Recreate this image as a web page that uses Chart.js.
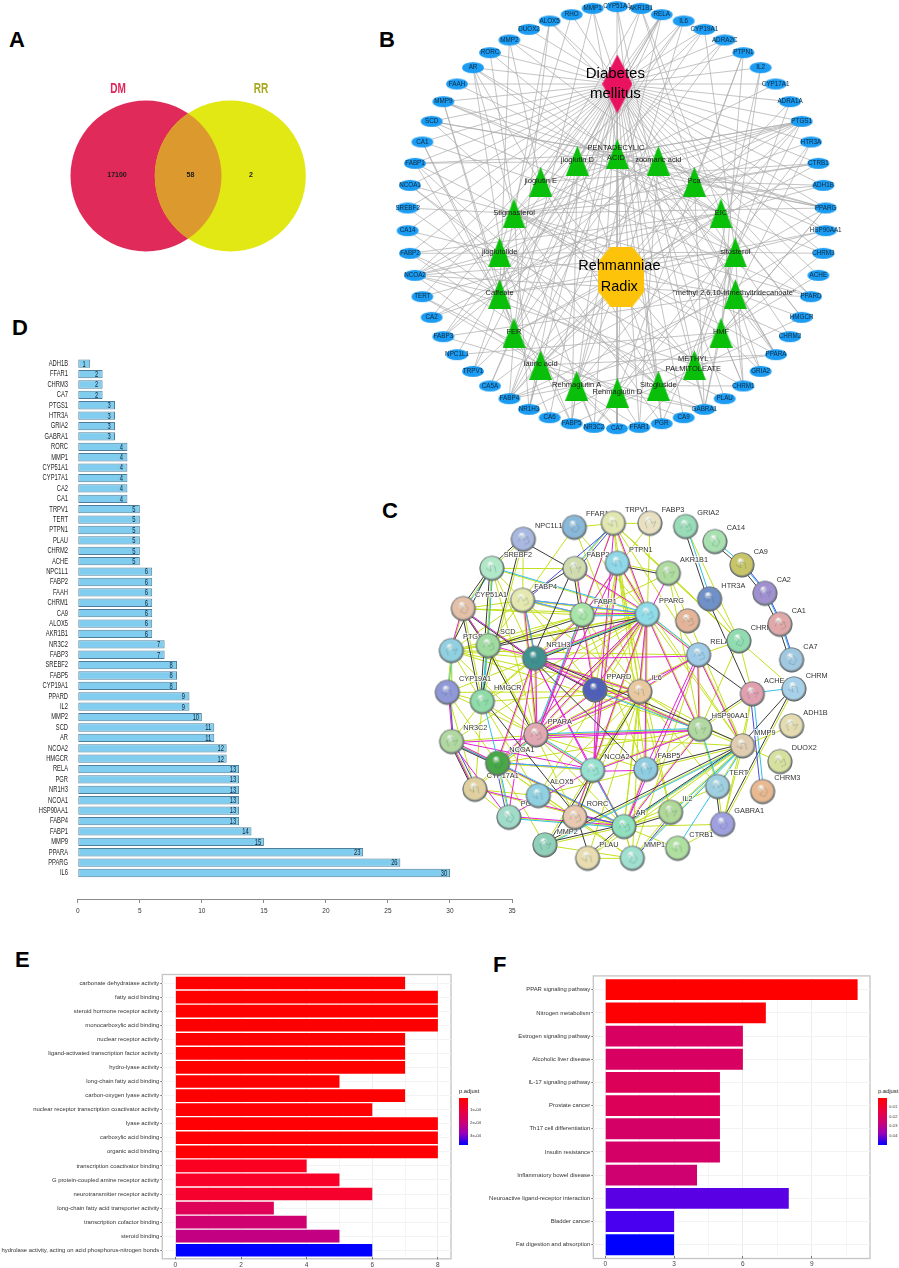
<!DOCTYPE html>
<html>
<head>
<meta charset="utf-8">
<title>Diabetes mellitus / Rehmanniae Radix</title>
<script src="https://cdn.jsdelivr.net/npm/chart.js@4"></script>
<style>
    html, body { margin: 0; padding: 0; background: #fff; overflow: hidden; }
    #page { position: relative; width: 899px; height: 1268px; overflow: hidden; font-family: "Liberation Sans", Arial, sans-serif; }
    canvas { position: absolute; filter: blur(0.3px); }
    .letter { position: absolute; font-size: 22px; line-height: 22px; font-weight: bold; color: #000; }
    .bar-legend { position: absolute; width: 9px; height: 47px; background: linear-gradient(#ff0000, #ee0038 25%, #d00070 50%, #9a00b8 75%, #0000ff); }
    .leg { position: absolute; font-size: 4.3px; line-height: 6px; color: #333; white-space: nowrap; }
    .leg-title { font-size: 5.8px; line-height: 7px; color: #222; }
</style>
</head>
<body>
<div id="page">
    <div class="letter" style="left:9px;top:29px">A</div>
    <div class="letter" style="left:379px;top:29px">B</div>
    <div class="letter" style="left:382px;top:500px">C</div>
    <div class="letter" style="left:12px;top:317px">D</div>
    <div class="letter" style="left:15px;top:949px">E</div>
    <div class="letter" style="left:493px;top:954px">F</div>

    <canvas id="chartA" width="380" height="220" style="left:0;top:60px"></canvas>
    <canvas id="chartB" width="470" height="440" style="left:380px;top:0"></canvas>
    <canvas id="chartC" width="420" height="400" style="left:420px;top:495px"></canvas>
    <canvas id="chartD" width="530" height="590" style="left:0;top:340px"></canvas>
    <canvas id="chartE" width="456" height="308" style="left:0;top:960px"></canvas>
    <canvas id="chartF" width="395" height="308" style="left:480px;top:960px"></canvas>

    <div class="leg leg-title" style="left:459px;top:1088px">p.adjust</div>
    <div class="bar-legend" style="left:459px;top:1098px"></div>
    <div class="leg" style="left:470px;top:1107px">1e-04</div>
    <div class="leg" style="left:470px;top:1120px">2e-04</div>
    <div class="leg" style="left:470px;top:1133px">3e-04</div>

    <div class="leg leg-title" style="left:878px;top:1088px">p.adjust</div>
    <div class="bar-legend" style="left:878px;top:1098px"></div>
    <div class="leg" style="left:889px;top:1104px">0.01</div>
    <div class="leg" style="left:889px;top:1114px">0.02</div>
    <div class="leg" style="left:889px;top:1123px">0.03</div>
    <div class="leg" style="left:889px;top:1133px">0.04</div>
</div>

<script>
// ============= A - Venn =============
const vennNames = ['DM', 'RR'];
const vennX = [146, 230.3];
const vennY = [176, 176];
const vennCounts = ['17100', '58', '2'];
const vennCountX = [117, 190.5, 251];

// ============= B - herb / target network =============
const bTargets = ['CYP51A1','AKR1B1','RELA','IL6','CYP19A1','ADRA2C','PTPN1','IL2','CYP17A1','ADRA1A','PTGS1','HTR3A','CTRB1','ADH1B','PPARG','HSP90AA1','CHRM3','ACHE','PPARD','HMGCR','CHRM2','PPARA','GRIA2','CHRM1','PLAU','GABRA1','CA9','PGR','FFAR1','CA7','NR3C2','FABP5','CA6','NR1H3','FABP4','CA5A','TRPV1','NPC1L1','FABP3','CA2','TERT','NCOA2','FABP2','CA14','SREBF2','NCOA1','FABP1','CA1','SCD','MMP9','FAAH','AR','RORC','MMP2','DUOX2','ALOX5','RHO','MMP1'];
const bTargetX = [711,783,845,911,973,1034,1090,1142,1187,1230,1265,1293,1315,1330,1337,1337,1330,1315,1293,1265,1230,1188,1142,1090,1034,973,911,845,778,711,642,575,509,447,388,330,279,231,190,155,127,105,90,83,83,90,105,127,155,190,231,279,330,388,447,509,575,638];
const bTargetY = [20,25,44,63,88,120,158,203,252,305,364,426,490,556,624,692,760,826,890,952,1010,1064,1114,1158,1196,1228,1253,1271,1282,1286,1282,1271,1253,1228,1196,1158,1114,1064,1010,952,890,826,760,692,624,556,490,426,364,305,252,203,158,120,88,63,44,25];

const bHerbs = ['PENTADECYLIC\nACID','jioglutin D','zoomaric acid','jioglutin E','Pca','Stigmasterol','EIC','jioglutolide','sitosterol','Caffeate','"methyl 2,6,10-trimethyltridecanoate"','FER','HMF','lauric acid','METHYL\nPALMITOLEATE','Rehmaglutin A','Sitogluside','Rehmaglutin D'];
const bHerbX = [712,592,835,482,943,402,1023,359,1066,359,1066,402,1023,482,943,590,835,712];
const bHerbY = [462,482,482,545,545,640,640,757,757,882,882,998,998,1095,1095,1157,1157,1178];
const bHerbLabelX = [708,592,835,482,943,402,1023,359,1066,359,1063,402,1023,482,940,590,835,712];
const bHerbLabelY = [444,481,481,544,544,638,638,756,756,880,880,996,996,1093,1077,1155,1155,1177];
const bHerbLinks = [
    'PTGS1 FABP1 PPARG PPARA FABP4 FABP3 CYP19A1 SCD',
    'PTGS1 RELA IL6 MMP9 PPARG NR1H3 FABP5',
    'PTGS1 FABP1 FABP3 FABP4 PPARA PPARG FFAR1 SCD NCOA2 HSP90AA1',
    'PTGS1 CTRB1 AKR1B1 RELA CA1 MMP2 PPARD',
    'ADH1B CTRB1 PPARG MMP9 CA2 HTR3A AKR1B1 FABP4 ALOX5 MMP2 PTPN1 GABRA1',
    'PTGS1 NCOA2 NCOA1 SREBF2 FABP1 AR CYP19A1 CYP17A1 RORC PPARG PPARD PPARA PGR NR1H3 NR3C2 HMGCR CHRM2 CTRB1 ADH1B',
    'MMP9 ADH1B PPARD HMGCR CA5A FABP2 NCOA2 AKR1B1 CHRM1 CHRM3 FAAH AR TERT',
    'PTGS1 NCOA1 NCOA2 CA14 RHO ADRA2C FABP5 CHRM1',
    'PTGS1 CHRM3 NCOA2 NR3C2 PGR CYP19A1 AR HSP90AA1 FABP2 CHRM1 GABRA1 SCD RORC',
    'MMP2 MMP9 ALOX5 RELA TRPV1 CA1 CA2 CA14 FABP2 NCOA2 PTGS1 HSP90AA1 PLAU IL6 CA6',
    'PPARA PPARD FABP3 FABP4 NCOA2 GRIA2 HTR3A',
    'MMP1 CA1 CA5A FABP4 ALOX5 MMP9 RELA CTRB1 TRPV1 AR ADRA2C CA7',
    'CHRM3 IL2 PTPN1 FABP4 CA6 GRIA2 GABRA1 ACHE PPARG NPC1L1 CHRM1',
    'FABP1 FABP3 FABP4 FABP5 FFAR1 PPARA PPARG PTGS1 NCOA2 GABRA1 NR1H3 ADRA1A',
    'PPARA PPARG NCOA2 GABRA1 FABP4 SCD FFAR1 CYP51A1 IL2 ADRA1A',
    'IL6 RELA NR1H3 NR3C2 HSP90AA1 FABP5 CA7 TERT PTGS1',
    'MMP1 GABRA1 CHRM1 NCOA1 PGR FABP1 AR HMGCR CYP51A1 SREBF2 FABP5',
    'GABRA1 CA9 CA7 FFAR1 PTPN1 NR3C2 FABP2 HTR3A TERT'
];

// ============= C - protein interaction network =============
const cNames = ['NPC1L1','FFAR1','TRPV1','FABP3','GRIA2','CA14','CA9','CA2','CA1','CA7','CHRM','ADH1B','DUOX2','CHRM3','MMP9','HSP90AA1','TERT','GABRA1','CTRB1','IL2','AR','MMP1','PLAU','MMP2','RORC','PG','ALOX5','FABP5','NCOA2','NCOA1','CYP17A1','NR3C2','PPARA','PPARD','IL6','ACHE','RELA','CHRM1','HTR3A','AKR1B1','PPARG','FABP1','PTPN1','FABP2','FABP4','CYP51A1','SREBF2','PTGS1','SCD','NR1H3','CYP19A1','HMGCR',''];
const cX = [310,463,580,690,797,885,966,1035,1080,1115,1122,1115,1080,1028,968,840,893,908,773,752,612,637,503,375,465,267,355,678,518,233,165,95,348,525,660,997,836,957,869,745,682,487,592,465,308,130,216,94,205,344,82,187,803];
const cY = [133,97,85,85,95,140,210,295,388,495,582,693,800,890,753,703,875,988,1060,952,995,1090,1090,1050,967,967,902,823,826,805,883,740,720,585,590,597,480,438,312,235,358,360,205,221,316,341,220,467,452,490,592,620,378];
const cColors = ['#a8b8e0','#8ab8d8','#e2e6b0','#e8e0c0','#9adcb8','#a8e0b0','#c8c468','#a090d0','#e0a8a8','#a0c8e0','#a8d0e8','#e4dcb0','#d8e0a0','#e8b890','#e0ccb0','#b0d8a0','#a0d0e0','#a0a0e0','#b0e0a0','#b0d898','#90e0c0','#a0e0d0','#e8dcb0','#90d0b8','#e8c8b0','#a0dcc8','#90d0e0','#90cce0','#98e0d0','#48a848','#e0d0a0','#b0d8a0','#e0a8b0','#5060b8','#e8c8a0','#e0a0b0','#a0cce8','#90dcb0','#7090c8','#b0dca0','#90dce8','#a8e4a8','#90d8e8','#d0dcb0','#e4e8b0','#e4c0a8','#b0e8c8','#90d0e0','#a0dca0','#409090','#9098d8','#90dca8','#e4b498'];

const cLime = [
    ['IL6','PPARG PPARA PPARD RELA NCOA1 NCOA2 HSP90AA1 MMP9 MMP2 MMP1 AR PTGS1 NR1H3 IL2 FABP4 FABP1 HMGCR TERT FFAR1 TRPV1 CYP19A1 RORC PTPN1 ALOX5 PLAU SCD'],
    ['PPARG','PPARA PPARD NCOA1 NCOA2 FABP1 FABP2 FABP3 FABP4 FABP5 NR1H3 SCD HMGCR AR HSP90AA1 RELA MMP9 PTGS1 CYP19A1 SREBF2 CYP51A1 PTPN1 TRPV1 NR3C2 ALOX5 FFAR1 RORC'],
    ['PPARA','PPARD NCOA1 NCOA2 FABP1 FABP4 FABP5 NR1H3 SCD HMGCR SREBF2 CYP51A1 AR HSP90AA1 NR3C2 RORC PTGS1 CYP19A1 RELA CYP17A1 MMP9'],
    ['NCOA1','NCOA2 AR NR3C2 PG RORC NR1H3 CYP17A1 HSP90AA1 CYP19A1 MMP2 MMP1'],
    ['AR','NCOA2 HSP90AA1 PG MMP2 MMP1 PLAU NR3C2 RORC CYP17A1 FABP5 TERT GABRA1 IL2 MMP9 CTRB1'],
    ['HSP90AA1','MMP9 TERT NR1H3 PTGS1 RELA ACHE CHRM1 AKR1B1 FABP5 NCOA2 PPARD'],
    ['MMP9','TERT MMP2 MMP1 PLAU IL2 RELA PTPN1 ACHE DUOX2 ADH1B AKR1B1 GABRA1 ALOX5'],
    ['FABP1','FABP2 FABP3 FABP4 FABP5 SCD HMGCR CYP51A1 PTGS1 NR1H3 PPARD AKR1B1 TRPV1'],
    ['FABP4','SCD FFAR1 NPC1L1 SREBF2 NR1H3 PPARD CYP51A1 PTGS1'],
    ['SREBF2','HMGCR SCD CYP51A1 NPC1L1 NR1H3 FABP2'],
    ['HMGCR','CYP51A1 CYP19A1 SCD NR1H3 NPC1L1 CYP17A1 NR3C2'],
    ['PTGS1','CYP19A1 SCD ALOX5 NR1H3 CYP51A1 NR3C2 RELA'],
    ['CHRM1','ACHE CHRM TRPV1 GRIA2 HTR3A AKR1B1 RELA'],
    ['TRPV1','FFAR1 FABP2 PTPN1 AKR1B1 RELA FABP3 CHRM1'],
    ['GABRA1','CTRB1 TERT ACHE CHRM'],
    ['MMP1','MMP2 PLAU IL2 RELA AR ALOX5'],
    ['CYP17A1','CYP19A1 NR3C2 PG ALOX5'],
    ['PTPN1','IL2 PPARD AKR1B1 FABP5 NCOA2']
];
const cMagenta = [
    ['PPARG','PPARA PPARD NCOA1 NCOA2 FABP1 FABP4 FABP5 NR1H3 RELA IL6 HSP90AA1 TRPV1 AKR1B1 FABP2 PTPN1'],
    ['PPARA','PPARD NCOA1 NCOA2 NR1H3 FABP1 FABP4 RELA HSP90AA1 IL6 TRPV1 PTPN1'],
    ['NR1H3','NCOA1 NCOA2 PPARD RELA FABP4 FABP1 SCD AR PG IL6 HSP90AA1'],
    ['NCOA2','AR NR3C2 PG RORC FABP5 NCOA1 PPARD HSP90AA1 PTPN1 TRPV1'],
    ['AR','NR3C2 PG CYP17A1 HSP90AA1 RELA FABP5'],
    ['NR3C2','NCOA1 PG CYP19A1 CYP17A1 HSP90AA1'],
    ['CYP51A1','PTGS1 SCD NR1H3'],
    ['RELA','IL6 HSP90AA1 MMP9 FABP5'],
    ['FABP1','FABP2 FABP4 PPARD PTPN1']
];
const cCyan = [
    ['CA14','CA9'],['CA9','CA2'],['CA2','CA1'],['CA1','CA7'],
    ['GRIA2','HTR3A'],['FABP4','FABP1'],['FABP4','PPARG'],['FABP4','NR1H3'],['FABP2','TRPV1'],
    ['PPARA','HSP90AA1 NCOA1 NCOA2 FABP1'],['PPARG','FABP1 NR1H3 RELA'],['NCOA1','NCOA2 AR PG NR3C2'],
    ['SREBF2','HMGCR CYP51A1 PPARG'],['PTGS1','CYP19A1'],['HMGCR','NCOA1 SCD'],
    ['AR','PG MMP9 NCOA2'],['MMP9','MMP2 MMP1 TERT IL2'],['CTRB1','TERT'],['ACHE','CHRM CHRM3'],
    ['HSP90AA1','PPARD TERT']
];
const cBlack = [
    ['CA14','CA9'],['CA9','CA2'],['CA2','CA1'],['CA1','CA7'],['GRIA2','HTR3A'],
    ['NPC1L1','FABP2 SREBF2 HMGCR'],['SREBF2','CYP51A1 HMGCR PTGS1'],['FABP2','NR1H3 FABP1 FABP4'],
    ['PTPN1','AKR1B1'],['CYP51A1','NR1H3 SCD HMGCR'],['SCD','PPARG PPARA FABP1'],
    ['HTR3A','ACHE'],['RELA','ACHE'],['CHRM','GABRA1 MMP9'],['TERT','GABRA1'],
    ['MMP9','FABP5 AR MMP2 NR1H3'],['NR1H3','PPARG PPARD FABP5'],['AR','MMP2 IL2 PLAU'],['PLAU','RORC'],
    ['MMP2','IL6'],['NR3C2','NCOA1 CYP17A1'],['ACHE','HSP90AA1'],['RORC','NCOA2 HMGCR']
];
const cBlue = [
    ['CA9','CA2'],['CA2','CA1'],['CA1','CA7'],['CYP19A1','NR3C2'],['NR3C2','CYP17A1'],['PG','NCOA1'],
    ['TRPV1','FABP4'],['TRPV1','FABP2'],['IL2','MMP1'],['RORC','AR'],['CHRM3','ACHE']
];

// ============= D - degree bars =============
const dGenes = ['ADH1B','FFAR1','CHRM3','CA7','PTGS1','HTR3A','GRIA2','GABRA1','RORC','MMP1','CYP51A1','CYP17A1','CA2','CA1','TRPV1','TERT','PTPN1','PLAU','CHRM2','ACHE','NPC1L1','FABP2','FAAH','CHRM1','CA9','ALOX5','AKR1B1','NR3C2','FABP3','SREBF2','FABP5','CYP19A1','PPARD','IL2','MMP2','SCD','AR','NCOA2','HMGCR','RELA','PGR','NR1H3','NCOA1','HSP90AA1','FABP4','FABP1','MMP9','PPARA','PPARG','IL6'];
const dValues = [1,2,2,2,3,3,3,3,4,4,4,4,4,4,5,5,5,5,5,5,6,6,6,6,6,6,6,7,7,8,8,8,9,9,10,11,11,12,12,13,13,13,13,13,13,14,15,23,26,30];

// ============= E - GO enrichment =============
const eTerms = ['carbonate dehydratase activity','fatty acid binding','steroid hormone receptor activity','monocarboxylic acid binding','nuclear receptor activity','ligand-activated transcription factor activity','hydro-lyase activity','long-chain fatty acid binding','carbon-oxygen lyase activity','nuclear receptor transcription coactivator activity','lyase activity','carboxylic acid binding','organic acid binding','transcription coactivator binding','G protein-coupled amine receptor activity','neurotransmitter receptor activity','long-chain fatty acid transporter activity','transcription cofactor binding','steroid binding','hydrolase activity, acting on acid phosphorus-nitrogen bonds'];
const eCounts = [7,8,8,8,7,7,7,5,7,6,8,8,8,4,5,6,3,4,5,6];
const eColors = ['#ff0000','#ff0000','#ff0000','#ff0000','#ff0000','#ff0000','#ff0000','#ff0000','#ff0000','#ff0004','#ff0004','#ff0004','#ff0004','#fb0020','#f90028','#f6002e','#df0058','#cf0070','#c40082','#0000ff'];

// ============= F - KEGG enrichment =============
const fTerms = ['PPAR signaling pathway','Nitrogen metabolism','Estrogen signaling pathway','Alcoholic liver disease','IL-17 signaling pathway','Prostate cancer','Th17 cell differentiation','Insulin resistance','Inflammatory bowel disease','Neuroactive ligand-receptor interaction','Bladder cancer','Fat digestion and absorption'];
const fCounts = [11,7,6,6,5,5,5,5,4,8,3,3];
const fColors = ['#ff0000','#fe0004','#d80060','#d80060','#dc0058','#dc0058','#d40066','#d40066','#cf0070','#5a00e4','#4a00f0','#0000ff'];

document.addEventListener('DOMContentLoaded', () => {

    const FONT = '"Liberation Sans", Arial, sans-serif';
    Chart.defaults.font.family = FONT;
    Chart.defaults.animation = false;
    Chart.defaults.responsive = false;
    Chart.defaults.layout.autoPadding = false;
    Chart.defaults.plugins.legend.display = false;
    Chart.defaults.plugins.tooltip.enabled = false;

    // axes that only map picture coordinates onto the canvas
    function plainScales(xMin, xMax, yMin, yMax) {
        return {
            x: { type: 'linear', display: false, min: xMin, max: xMax },
            y: { type: 'linear', display: false, min: yMin, max: yMax, reverse: true }
        };
    }

    // the reference sets panels A and D in a condensed face
    function narrowText(ctx, text, x, y, squeeze) {
        ctx.save();
        ctx.translate(x, y);
        ctx.scale(squeeze, 1);
        ctx.fillText(text, 0, 0);
        ctx.restore();
    }

    // sprites for the network nodes
    function sprite(w, h, draw) {
        const c = document.createElement('canvas');
        c.width = w; c.height = h;
        draw(c.getContext('2d'), w, h);
        return c;
    }
    function polygon(ctx, pts, color) {
        ctx.fillStyle = color;
        ctx.beginPath();
        pts.forEach((p, i) => i ? ctx.lineTo(p[0], p[1]) : ctx.moveTo(p[0], p[1]));
        ctx.closePath();
        ctx.fill();
    }
    const ellipseImg = sprite(24, 13, (ctx, w, h) => {
        ctx.fillStyle = '#1b9cf2';
        ctx.beginPath();
        ctx.ellipse(w / 2, h / 2, 11, 5.6, 0, 0, Math.PI * 2);
        ctx.fill();
    });
    const triangleImg = sprite(23, 30, (ctx, w, h) => polygon(ctx, [[w / 2, 0], [w, h], [0, h]], '#0abf0a'));
    const diamondImg = sprite(30, 59, (ctx, w, h) => polygon(ctx, [[w / 2, 0], [w, h / 2], [w / 2, h], [0, h / 2]], '#e8125f'));
    const octagonImg = sprite(46, 60, (ctx, w, h) => polygon(ctx, [[12, 0], [34, 0], [46, 15], [46, 45], [34, 60], [12, 60], [0, 45], [0, 15]], '#fdc30a'));

    // ============= PAINEL A =============
    const vennPlugin = {
        id: 'venn',
        afterDatasetsDraw(chart) {
            const { ctx, scales: { x, y } } = chart;
            const r = 75.5;
            // overlap
            ctx.save();
            ctx.beginPath();
            ctx.arc(x.getPixelForValue(vennX[0]), y.getPixelForValue(vennY[0]), r, 0, Math.PI * 2);
            ctx.clip();
            ctx.fillStyle = '#dc9a2e';
            ctx.beginPath();
            ctx.arc(x.getPixelForValue(vennX[1]), y.getPixelForValue(vennY[1]), r, 0, Math.PI * 2);
            ctx.fill();
            ctx.restore();

            ctx.save();
            ctx.textAlign = 'center';
            ctx.textBaseline = 'middle';
            ctx.font = 'bold 14px ' + FONT;
            ctx.fillStyle = '#e0255a';
            narrowText(ctx, vennNames[0], x.getPixelForValue(118), y.getPixelForValue(89.5), 0.72);
            ctx.fillStyle = '#a8a820';
            narrowText(ctx, vennNames[1], x.getPixelForValue(261), y.getPixelForValue(89.5), 0.72);
            ctx.font = 'bold 7px ' + FONT;
            ctx.fillStyle = '#1a1a1a';
            vennCounts.forEach((t, i) => ctx.fillText(t, x.getPixelForValue(vennCountX[i]), y.getPixelForValue(175)));
            ctx.restore();
        }
    };
    new Chart(document.getElementById('chartA'), {
        type: 'scatter',
        data: {
            datasets: [
                { data: [{ x: vennX[1], y: vennY[1] }], pointRadius: 75.5, pointBackgroundColor: '#e1e813', pointBorderWidth: 0 },
                { data: [{ x: vennX[0], y: vennY[0] }], pointRadius: 75.5, pointBackgroundColor: '#e02b5a', pointBorderWidth: 0 }
            ]
        },
        options: { scales: plainScales(0, 380, 60, 280) },
        plugins: [vennPlugin]
    });

    // ============= PAINEL B =============
    const dmPoint = { x: 712, y: 252 };
    const rrPoint = { x: 724, y: 830 };
    const targetPoint = name => {
        const i = bTargets.indexOf(name);
        return { x: bTargetX[i], y: bTargetY[i] };
    };
    const gap = { x: NaN, y: NaN };
    const bEdges = [];
    bTargets.forEach(name => bEdges.push(dmPoint, targetPoint(name), gap));
    bHerbs.forEach((h, i) => {
        const herb = { x: bHerbX[i], y: bHerbY[i] };
        bEdges.push(rrPoint, herb, gap);
        bHerbLinks[i].split(' ').forEach(name => bEdges.push(herb, targetPoint(name), gap));
    });

    const bLabels = {
        id: 'bLabels',
        afterDatasetsDraw(chart) {
            const { ctx, scales: { x, y } } = chart;
            ctx.save();
            ctx.textAlign = 'center';
            ctx.textBaseline = 'middle';
            ctx.fillStyle = '#10283c';
            ctx.font = '6.3px ' + FONT;
            bTargets.forEach((t, i) => ctx.fillText(t, x.getPixelForValue(bTargetX[i]), y.getPixelForValue(bTargetY[i])));
            ctx.fillStyle = '#1c1c1c';
            ctx.font = '7.5px ' + FONT;
            bHerbs.forEach((t, i) => t.split('\n').forEach((line, k) =>
                ctx.fillText(line, x.getPixelForValue(bHerbLabelX[i]), y.getPixelForValue(bHerbLabelY[i]) + k * 10)));
            ctx.fillStyle = '#000';
            ctx.font = '15px ' + FONT;
            ctx.fillText('Diabetes', x.getPixelForValue(706), y.getPixelForValue(221));
            ctx.fillText('mellitus', x.getPixelForValue(706), y.getPixelForValue(283));
            ctx.font = '14.5px ' + FONT;
            ctx.fillText('Rehmanniae', x.getPixelForValue(718), y.getPixelForValue(798));
            ctx.fillText('Radix', x.getPixelForValue(718), y.getPixelForValue(860));
            ctx.restore();
        }
    };
    new Chart(document.getElementById('chartB'), {
        type: 'scatter',
        data: {
            datasets: [
                { data: [dmPoint], pointStyle: diamondImg },
                { data: [rrPoint], pointStyle: octagonImg },
                { data: bHerbs.map((h, i) => ({ x: bHerbX[i], y: bHerbY[i] })), pointStyle: triangleImg },
                { data: bTargets.map((t, i) => ({ x: bTargetX[i], y: bTargetY[i] })), pointStyle: ellipseImg },
                { data: bEdges, showLine: true, spanGaps: false, pointRadius: 0, borderColor: '#ababab', borderWidth: 0.7 }
            ]
        },
        options: { scales: plainScales(0, 1410, 0, 1320) },
        plugins: [bLabels]
    });

    // ============= PAINEL C =============
    function sphere(color, seed) {
        const wiggles = [
            [[-5, 2], [-2, -4], [1, 1], [4, -3], [6, 3], [1, 5]],
            [[-4, -4], [0, -1], [-3, 3], [2, 5], [5, 0], [1, -5]],
            [[-6, 0], [-1, 3], [-2, -3], [3, -2], [4, 4]],
            [[-3, 5], [-5, -1], [0, -5], [2, 0], [6, -2], [3, 4]]
        ];
        return sprite(28, 28, (ctx) => {
            const g = ctx.createRadialGradient(12, 9, 0.5, 14, 14, 12.5);
            g.addColorStop(0, '#f4f8f4');
            g.addColorStop(0.3, color);
            g.addColorStop(0.82, color);
            g.addColorStop(0.95, '#6a7274');
            g.addColorStop(1, '#444c4e');
            ctx.fillStyle = g;
            ctx.beginPath();
            ctx.arc(14, 14, 12.5, 0, Math.PI * 2);
            ctx.fill();
            ctx.strokeStyle = 'rgba(60,90,100,0.3)';
            ctx.lineWidth = 0.8;
            ctx.beginPath();
            wiggles[seed % 4].forEach((p, i) => i ? ctx.lineTo(14 + p[0], 14 + p[1]) : ctx.moveTo(14 + p[0], 14 + p[1]));
            ctx.stroke();
        });
    }
    // parallel strands, one per evidence colour
    function strands(links, offset) {
        const out = [];
        links.forEach(([from, list]) => list.split(' ').forEach(to => {
            const a = cNames.indexOf(from), b = cNames.indexOf(to);
            const dx = cX[b] - cX[a], dy = cY[b] - cY[a], len = Math.hypot(dx, dy);
            const ox = -dy / len * offset, oy = dx / len * offset;
            out.push({ x: cX[a] + ox, y: cY[a] + oy }, { x: cX[b] + ox, y: cY[b] + oy }, gap);
        }));
        return out;
    }
    const strand = (links, color, offset) => ({
        data: strands(links, offset), showLine: true, spanGaps: false, pointRadius: 0, borderColor: color, borderWidth: 1
    });

    const cLabels = {
        id: 'cLabels',
        beforeDatasetDraw(chart, args) {
            if (args.index !== 0) return;
            const { ctx, scales: { x, y } } = chart;
            ctx.save();
            ctx.font = '7.3px ' + FONT;
            ctx.textBaseline = 'middle';
            ctx.lineJoin = 'round';
            cNames.forEach((t, i) => {
                const px = x.getPixelForValue(cX[i]) + 11.7, py = y.getPixelForValue(cY[i]) - 13.3;
                ctx.strokeStyle = 'rgba(255,255,255,0.75)';
                ctx.lineWidth = 2;
                ctx.strokeText(t, px, py);
                ctx.fillStyle = '#333';
                ctx.fillText(t, px, py);
            });
            ctx.restore();
        }
    };
    new Chart(document.getElementById('chartC'), {
        type: 'scatter',
        data: {
            datasets: [
                { data: cNames.map((n, i) => ({ x: cX[i], y: cY[i] })), pointStyle: cColors.map((c, i) => sphere(c, i)) },
                strand(cBlue, '#4a4ae0', -6),
                strand(cBlack, '#3a3a3a', 6),
                strand(cCyan, '#2fc0ea', -3),
                strand(cMagenta, '#e21fd8', 3),
                strand(cLime, '#c4e01c', 0)
            ]
        },
        options: { scales: plainScales(0, 1260, 0, 1200) },
        plugins: [cLabels]
    });

    // ============= PAINEL D =============
    const dLabels = {
        id: 'dLabels',
        afterDatasetsDraw(chart) {
            const { ctx, scales: { y } } = chart;
            ctx.save();
            ctx.font = '8.5px ' + FONT;
            ctx.fillStyle = '#222';
            ctx.textBaseline = 'middle';
            ctx.textAlign = 'right';
            dGenes.forEach((g, i) => narrowText(ctx, g, 68, y.getPixelForTick(i), 0.68));
            ctx.textAlign = 'center';
            ctx.fillStyle = '#123';
            chart.getDatasetMeta(0).data.forEach((bar, i) => narrowText(ctx, dValues[i], bar.x - 6, bar.y + 0.5, 0.68));
            ctx.restore();
        }
    };
    new Chart(document.getElementById('chartD'), {
        type: 'bar',
        data: {
            labels: dGenes.concat(['', '']),
            datasets: [{
                data: dValues,
                backgroundColor: '#80cdef',
                borderColor: '#4f7f98',
                borderWidth: 1,
                borderSkipped: false,
                barPercentage: 0.8,
                categoryPercentage: 1
            }]
        },
        options: {
            indexAxis: 'y',
            layout: { padding: { top: 18.5, right: 18 } },
            scales: {
                x: {
                    min: 0, max: 35,
                    afterFit: s => { s.height = 31; },
                    grid: { drawOnChartArea: false, drawTicks: true, tickLength: 4, color: '#8a8a8a' },
                    border: { color: '#8a8a8a' },
                    ticks: { stepSize: 5, maxRotation: 0, padding: 4, color: '#333', font: { size: 6.5 } }
                },
                y: {
                    afterFit: s => { s.width = 77.8; },
                    grid: { display: false },
                    border: { display: false },
                    ticks: { display: false, autoSkip: false }
                }
            }
        },
        plugins: [dLabels]
    });

    // ============= PAINÉIS E / F =============
    const framePlugin = {
        id: 'frame',
        beforeDraw(chart, args, opts) {
            const { ctx, chartArea: a } = chart;
            ctx.save();
            ctx.strokeStyle = '#c4c4c4';
            ctx.lineWidth = 1.3;
            ctx.strokeRect(a.left, a.top - opts.pad, a.right - a.left, a.bottom - a.top + opts.pad * 2);
            ctx.restore();
        }
    };
    function enrichChart(id, terms, counts, colors, cfg) {
        return new Chart(document.getElementById(id), {
            type: 'bar',
            data: {
                labels: terms,
                datasets: [{ data: counts, backgroundColor: colors, barPercentage: 0.9, categoryPercentage: 1 }]
            },
            options: {
                indexAxis: 'y',
                layout: { padding: { top: cfg.top, right: 5 } },
                plugins: { frame: { pad: cfg.pad } },
                scales: {
                    x: {
                        min: cfg.min, max: cfg.max,
                        afterFit: s => { s.height = cfg.bottom; },
                        grid: {
                            color: c => c.tick && c.tick.major ? '#ececec' : '#f5f5f5',
                            tickColor: c => c.tick && c.tick.major ? '#777' : 'rgba(0,0,0,0)',
                            tickLength: 2
                        },
                        border: { display: false },
                        ticks: {
                            includeBounds: false,
                            stepSize: cfg.step / 2,
                            major: { enabled: true },
                            maxRotation: 0,
                            autoSkip: false,
                            padding: 2,
                            color: '#444',
                            font: { size: 6.5 },
                            callback: v => (v % cfg.step === 0 ? v : '')
                        },
                        afterBuildTicks: s => s.ticks.forEach(t => { t.major = t.value % cfg.step === 0; })
                    },
                    y: {
                        afterFit: s => { s.width = cfg.left; },
                        grid: { offset: false, color: '#f3f3f3', tickColor: '#777', tickLength: 2 },
                        border: { display: false },
                        ticks: { autoSkip: false, padding: 1, color: '#333', font: { size: 5.9 } }
                    }
                }
            },
            plugins: [framePlugin]
        });
    }
    enrichChart('chartE', eTerms, eCounts, eColors, { top: 16, bottom: 10.7, left: 162.3, pad: 1.5, min: -0.4, max: 8.4, step: 2 });
    enrichChart('chartF', fTerms, fCounts, fColors, { top: 18.1, bottom: 11.7, left: 113.3, pad: 2.2, min: -0.52, max: 11.54, step: 3 });
});
</script>
</body>
</html>
